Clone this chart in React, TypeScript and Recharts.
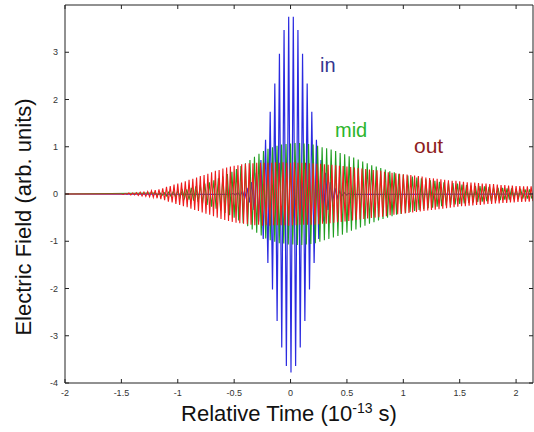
import { LineChart, Line, XAxis, YAxis } from "recharts";

const xTicks = [-2, -1.5, -1, -0.5, 0, 0.5, 1, 1.5, 2];
const yTicks = [-4, -3, -2, -1, 0, 1, 2, 3];

// field at successive half-cycle extrema, time in units of 1e-13 s
const inStart = -0.529;
const inStep = 0.0205;
const inValues = [
  -0.01, 0.01, -0.02, 0.03, -0.04, 0.06, -0.09, 0.13, -0.18, 0.25,
  -0.34, 0.45, -0.58, 0.72, -0.95, 1.15, -1.46, 1.74, -2.02, 2.34,
  -2.69, 2.97, -3.25, 3.47, -3.64, 3.75, -3.78, 3.75, -3.64, 3.47,
  -3.25, 2.97, -2.69, 2.34, -2.02, 1.74, -1.46, 1.15, -0.95, 0.72,
  -0.58, 0.45, -0.34, 0.25, -0.18, 0.13, -0.09, 0.06, -0.04, 0.03,
  -0.02, 0.01, -0.01,
];

const midStart = -1.2;
const midStep = 0.02;
const midValues = [
  0.02, -0.02, 0.03, -0.03, 0.03, -0.04, 0.04, -0.05, 0.05, -0.06,
  0.07, -0.07, 0.08, -0.09, 0.1, -0.12, 0.13, -0.14, 0.16, -0.17,
  0.19, -0.2, 0.22, -0.23, 0.25, -0.27, 0.29, -0.31, 0.33, -0.35,
  0.37, -0.4, 0.42, -0.45, 0.47, -0.5, 0.53, -0.56, 0.59, -0.62,
  0.65, -0.68, 0.72, -0.75, 0.79, -0.82, 0.85, -0.88, 0.91, -0.94,
  0.96, -0.98, 0.99, -1.01, 1.02, -1.04, 1.05, -1.05, 1.06, -1.07,
  1.07, -1.07, 1.08, -1.08, 1.08, -1.08, 1.07, -1.07, 1.06, -1.06,
  1.05, -1.04, 1.02, -1.01, 0.99, -0.98, 0.97, -0.95, 0.94, -0.92,
  0.91, -0.89, 0.87, -0.86, 0.84, -0.82, 0.8, -0.78, 0.77, -0.75,
  0.73, -0.71, 0.69, -0.67, 0.65, -0.63, 0.61, -0.6, 0.58, -0.56,
  0.55, -0.53, 0.52, -0.5, 0.48, -0.47, 0.46, -0.44, 0.43, -0.42,
  0.41, -0.4, 0.39, -0.38, 0.37, -0.36, 0.35, -0.34, 0.33, -0.32,
  0.31, -0.3, 0.29, -0.29, 0.28, -0.27, 0.26, -0.26, 0.25, -0.24,
  0.24, -0.23, 0.23, -0.22, 0.22, -0.21, 0.2, -0.2, 0.19, -0.19,
  0.18, -0.18, 0.17, -0.17, 0.17, -0.16, 0.16, -0.15, 0.15, -0.15,
  0.14, -0.14, 0.13, -0.13, 0.13, -0.12, 0.12, -0.12, 0.12, -0.11,
  0.11, -0.11, 0.11, -0.1, 0.1, -0.1, 0.1, -0.1,
];

const outStart = -1.5;
const outStep = 0.1 / 6;
const outValues = [
  0, -0.01, 0.01, -0.01, 0.02, -0.02,
  0.02, -0.02, 0.03, -0.03, 0.04, -0.04,
  0.04, -0.05, 0.05, -0.06, 0.07, -0.07,
  0.08, -0.09, 0.1, -0.11, 0.12, -0.13,
  0.15, -0.16, 0.17, -0.18, 0.2, -0.21,
  0.22, -0.23, 0.24, -0.26, 0.27, -0.28,
  0.3, -0.31, 0.32, -0.34, 0.35, -0.36,
  0.38, -0.39, 0.4, -0.42, 0.43, -0.44,
  0.46, -0.47, 0.49, -0.5, 0.51, -0.53,
  0.54, -0.55, 0.56, -0.57, 0.58, -0.59,
  0.6, -0.61, 0.61, -0.62, 0.63, -0.63,
  0.64, -0.64, 0.65, -0.65, 0.65, -0.66,
  0.66, -0.65, 0.66, -0.67, 0.66, -0.66,
  0.66, -0.67, 0.66, -0.66, 0.67, -0.66,
  0.66, -0.66, 0.67, -0.66, 0.66, -0.67,
  0.66, -0.66, 0.67, -0.66, 0.66, -0.65,
  0.66, -0.65, 0.66, -0.65, 0.65, -0.65,
  0.65, -0.65, 0.64, -0.64, 0.64, -0.63,
  0.63, -0.63, 0.62, -0.62, 0.62, -0.61,
  0.61, -0.6, 0.6, -0.59, 0.59, -0.58,
  0.58, -0.57, 0.57, -0.56, 0.56, -0.55,
  0.55, -0.54, 0.54, -0.53, 0.53, -0.52,
  0.52, -0.51, 0.51, -0.5, 0.5, -0.49,
  0.49, -0.48, 0.47, -0.47, 0.46, -0.45,
  0.45, -0.44, 0.44, -0.43, 0.43, -0.42,
  0.42, -0.41, 0.41, -0.4, 0.4, -0.39,
  0.39, -0.38, 0.38, -0.37, 0.37, -0.36,
  0.35, -0.35, 0.34, -0.34, 0.33, -0.33,
  0.32, -0.32, 0.31, -0.31, 0.3, -0.3,
  0.29, -0.29, 0.28, -0.28, 0.28, -0.27,
  0.27, -0.26, 0.26, -0.26, 0.25, -0.25,
  0.24, -0.24, 0.24, -0.23, 0.23, -0.23,
  0.22, -0.22, 0.22, -0.21, 0.21, -0.21,
  0.21, -0.2, 0.2, -0.2, 0.19, -0.19,
  0.19, -0.19, 0.18, -0.18, 0.18, -0.18,
  0.17, -0.17, 0.17, -0.17, 0.16, -0.16,
  0.16, -0.16, 0.16, -0.15,
];

const toSeries = (start: number, step: number, values: number[]) =>
  values.map((v, i) => ({ t: start + i * step, v }));

const inData = [{ t: -2, v: 0 }, ...toSeries(inStart, inStep, inValues), { t: 2.15, v: 0 }];
const midData = [{ t: -2, v: 0 }, ...toSeries(midStart, midStep, midValues)];
const outData = [{ t: -2, v: 0 }, ...toSeries(outStart, outStep, outValues)];

const font = "'Liberation Sans', Arial, sans-serif";
const axisColor = "#222";
const tickStyle = { fontSize: 9, fill: "#333", fontFamily: font };
const blank = () => "";

export default function App() {
  return (
    <div style={{ position: "absolute", left: 0, top: 0, width: 534, height: 432, background: "#fff" }}>
      <LineChart width={534} height={432} margin={{ top: 4, right: 0, bottom: 0, left: 0 }}>
        <XAxis
          dataKey="t"
          type="number"
          domain={[-2, 2.15]}
          allowDataOverflow
          ticks={xTicks}
          interval={0}
          height={49}
          tickSize={-4}
          tickMargin={11}
          tick={tickStyle}
          axisLine={{ stroke: axisColor }}
          tickLine={{ stroke: axisColor }}
        />
        <XAxis
          xAxisId="top"
          dataKey="t"
          orientation="top"
          type="number"
          domain={[-2, 2.15]}
          allowDataOverflow
          ticks={xTicks}
          interval={0}
          height={1}
          tickSize={-4}
          tickMargin={0}
          tickFormatter={blank}
          axisLine={{ stroke: axisColor }}
          tickLine={{ stroke: axisColor }}
        />
        <YAxis
          type="number"
          domain={[-4, 4]}
          allowDataOverflow
          ticks={yTicks}
          interval={0}
          width={65}
          tickSize={-4}
          tickMargin={11}
          tick={tickStyle}
          axisLine={{ stroke: axisColor }}
          tickLine={{ stroke: axisColor }}
        />
        <YAxis
          yAxisId="right"
          orientation="right"
          type="number"
          domain={[-4, 4]}
          allowDataOverflow
          ticks={yTicks}
          interval={0}
          width={1}
          tickSize={-4}
          tickMargin={0}
          tickFormatter={blank}
          axisLine={{ stroke: axisColor }}
          tickLine={{ stroke: axisColor }}
        />
        <Line data={inData} dataKey="v" type="linear" stroke="#2b2be0" strokeWidth={1.2} dot={false} isAnimationActive={false} />
        <Line data={midData} dataKey="v" type="linear" stroke="#1f9e1f" strokeWidth={1.1} dot={false} isAnimationActive={false} />
        <Line data={outData} dataKey="v" type="linear" stroke="#ee1c1c" strokeWidth={1.1} dot={false} isAnimationActive={false} />
        {/* invisible copy so the top and right frame axes get drawn */}
        <Line
          data={outData}
          dataKey="v"
          xAxisId="top"
          yAxisId="right"
          stroke="none"
          dot={false}
          activeDot={false}
          legendType="none"
          isAnimationActive={false}
        />
      </LineChart>
      <svg width={534} height={432} style={{ position: "absolute", left: 0, top: 0, pointerEvents: "none" }}>
        <text x={320} y={72} fontSize={20} fontFamily={font} fill="#35358f">in</text>
        <text x={335} y={137} fontSize={20} fontFamily={font} fill="#2cb52c">mid</text>
        <text x={414} y={153} fontSize={21} fontFamily={font} fill="#8e1c22">out</text>
        <text x={289} y={421} textAnchor="middle" fontSize={22} fontFamily={font} fill="#111">
          Relative Time (10<tspan dy={-8} fontSize={14}>-13</tspan>
          <tspan dy={8}> s)</tspan>
        </text>
        <text transform="translate(31,217) rotate(-90)" textAnchor="middle" fontSize={22} fontFamily={font} fill="#111">
          Electric Field (arb. units)
        </text>
      </svg>
    </div>
  );
}
